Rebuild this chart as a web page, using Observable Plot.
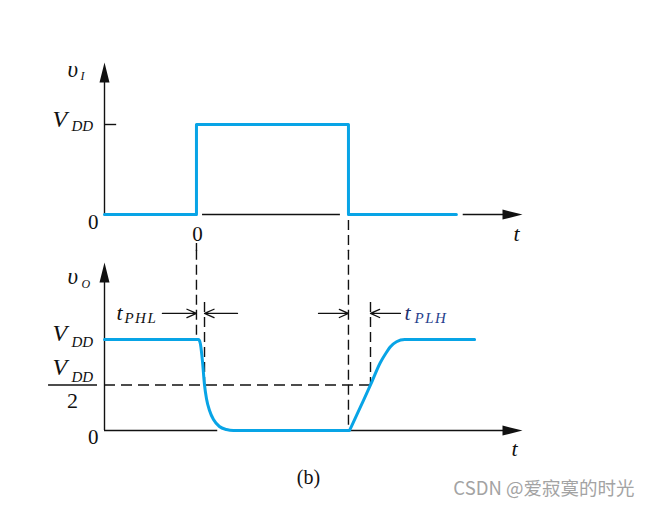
<!DOCTYPE html>
<html><head><meta charset="utf-8">
<script src="https://cdn.jsdelivr.net/npm/d3@7"></script>
<script src="https://cdn.jsdelivr.net/npm/@observablehq/plot@0.6"></script>
<style>
body{margin:0;background:#fff;}
#chart{width:660px;height:508px;overflow:hidden;}
#chart svg{display:block;overflow:visible;}
</style>
</head><body><div id="chart"></div>
<script>
// ---- data (time in arbitrary units, voltage normalised to VDD = 1) ----
const VDD = 1;
const tRise = 0, tFall = 10;          // input edges
const tPHL = 0.53, tPLH = 1.45;       // propagation delays
const xAxisStart = -6.05, xAxisEnd = 21.45;
const inputT = [-6.05, 0, 0, 10, 10, 17.1];
const inputV = [0, 0, 1, 1, 0, 0];
const outputT = [-6.05, 0.13, 0.17, 0.26, 0.39, 0.53, 0.66, 0.86, 1.12, 1.51, 1.97, 2.43, 10.07, 10.11, 10.79, 11.45, 12.1, 12.43, 12.76, 13.16, 13.7, 18.3];
const outputV = [1, 1, 0.995, 0.95, 0.77, 0.5, 0.35, 0.22, 0.12, 0.044, 0.011, 0, 0, 0.014, 0.26, 0.5, 0.747, 0.84, 0.92, 0.975, 1, 1];

const inputData = inputT.map((t, i) => ({t, v: inputV[i]}));
const outputData = outputT.map((t, i) => ({t, v: outputV[i]}));

const serif = "'Liberation Serif', 'Times New Roman', serif";
const blue = "#08a4e6";
const ink = "#111";
const solidHead = {draw(ctx, l, r) { ctx.moveTo(0, -l); ctx.lineTo(r, 0); ctx.lineTo(-r, 0); ctx.closePath(); }};

function txt(str, x, y, o = {}) {
  return Plot.text([str], {x, y, text: d => d, fontFamily: serif, fill: ink, lineAnchor: "bottom", textAnchor: "start", ...o});
}
function axisHeads(yTop) {
  return Plot.vector([{x: xAxisStart, y: yTop, r: 0}, {x: xAxisEnd, y: 0, r: 90}],
    {x: "x", y: "y", rotate: "r", length: 20, r: 5, anchor: "end", shape: solidHead, fill: ink, stroke: "none"});
}

// ---- top panel: input ----
const yTopMax = 1.6889;
const topPlot = Plot.plot({
  width: 660, height: 250,
  marginLeft: 104, marginRight: 138, marginTop: 62, marginBottom: 36,
  x: {domain: [xAxisStart, xAxisEnd], axis: null},
  y: {domain: [0, yTopMax], axis: null},
  style: {background: "white", overflow: "visible"},
  marks: [
    Plot.ruleX([xAxisStart], {y1: 0, y2: 1.467, stroke: ink, strokeWidth: 1.4}),
    Plot.ruleY([{a: -6.05, b: 0}, {a: 0.4, b: 9.47}, {a: 17.55, b: 20.2}], {y: 0, x1: "a", x2: "b", stroke: ink, strokeWidth: 1.4}),
    Plot.ruleY([VDD], {x1: xAxisStart, x2: xAxisStart + 0.8, stroke: ink, strokeWidth: 1.4}),
    Plot.ruleX([{x: tRise, a: -0.322, b: -0.41}, {x: tFall, a: -0.067, b: -0.41}], {x: "x", y1: "a", y2: "b", stroke: ink, strokeWidth: 1.4, strokeDasharray: "10,5"}),
    axisHeads(yTopMax),
    Plot.line(inputData, {x: "t", y: "v", stroke: blue, strokeWidth: 3}),
    txt("υ", xAxisStart, yTopMax, {dx: -37, dy: 14, fontSize: 23, fontStyle: "italic"}),
    txt("I", xAxisStart, yTopMax, {dx: -24, dy: 17, fontSize: 12, fontStyle: "italic"}),
    txt("V", xAxisStart, VDD, {dx: -52, dy: 2, fontSize: 24, fontStyle: "italic"}),
    txt("DD", xAxisStart, VDD, {dx: -33, dy: 6, fontSize: 15, fontStyle: "italic"}),
    txt("0", xAxisStart, 0, {dx: -6, dy: 14, fontSize: 21, textAnchor: "end"}),
    txt("0", tRise, 0, {dx: 1, dy: 26, fontSize: 21, textAnchor: "middle"}),
    txt("t", xAxisEnd, 0, {dx: -9, dy: 26, fontSize: 22, fontStyle: "italic"})
  ]
});

// ---- bottom panel: output ----
const yBotMax = 1.846;
const arrowY = 1.286;
const bottomPlot = Plot.plot({
  width: 660, height: 258,
  marginLeft: 104, marginRight: 138, marginTop: 12, marginBottom: 78,
  x: {domain: [xAxisStart, xAxisEnd], axis: null},
  y: {domain: [0, yBotMax], axis: null},
  style: {background: "white", overflow: "visible"},
  marks: [
    Plot.ruleX([xAxisStart], {y1: 0, y2: 1.626, stroke: ink, strokeWidth: 1.4}),
    Plot.ruleY([{a: -6.05, b: 1.4}, {a: 10.1, b: 20.2}], {y: 0, x1: "a", x2: "b", stroke: ink, strokeWidth: 1.4}),
    Plot.ruleX([
      {x: tRise, a: 1.98, b: 1.02},
      {x: tRise + tPHL, a: 1.407, b: VDD / 2},
      {x: tFall, a: 1.98, b: 0},
      {x: tFall + tPLH, a: 1.407, b: VDD / 2}
    ], {x: "x", y1: "a", y2: "b", stroke: ink, strokeWidth: 1.4, strokeDasharray: "10,5"}),
    Plot.ruleY([VDD / 2], {x1: xAxisStart, x2: tFall + tPLH, stroke: ink, strokeWidth: 1.4, strokeDasharray: "11,6"}),
    Plot.ruleY([VDD / 2], {x1: xAxisStart - 3.68, x2: xAxisStart - 0.46, stroke: ink, strokeWidth: 1.4}),
    Plot.arrow([
      {a: tRise - 2.24, b: tRise},
      {a: tRise + tPHL + 2.17, b: tRise + tPHL},
      {a: tFall - 1.97, b: tFall},
      {a: tFall + tPLH + 1.97, b: tFall + tPLH}
    ], {x1: "a", x2: "b", y1: arrowY, y2: arrowY, stroke: ink, strokeWidth: 1.3, headLength: 12, headAngle: 48}),
    axisHeads(yBotMax),
    Plot.line(outputData, {x: "t", y: "v", stroke: blue, strokeWidth: 3, curve: "monotone-x"}),
    txt("υ", xAxisStart, yBotMax, {dx: -37, dy: 21, fontSize: 23, fontStyle: "italic"}),
    txt("O", xAxisStart, yBotMax, {dx: -23, dy: 25, fontSize: 12, fontStyle: "italic"}),
    txt("V", xAxisStart, VDD, {dx: -52, dy: 2, fontSize: 24, fontStyle: "italic"}),
    txt("DD", xAxisStart, VDD, {dx: -33, dy: 8, fontSize: 15, fontStyle: "italic"}),
    txt("V", xAxisStart, VDD / 2, {dx: -52, dy: -10, fontSize: 24, fontStyle: "italic"}),
    txt("DD", xAxisStart, VDD / 2, {dx: -33, dy: -3, fontSize: 15, fontStyle: "italic"}),
    txt("2", xAxisStart, VDD / 2, {dx: -32, dy: 23.5, fontSize: 22, textAnchor: "middle"}),
    txt("0", xAxisStart, 0, {dx: -6, dy: 13, fontSize: 21, textAnchor: "end"}),
    txt("t", xAxisEnd, 0, {dx: -11, dy: 25, fontSize: 22, fontStyle: "italic"}),
    txt("t", tRise, arrowY, {dx: -80, dy: 7, fontSize: 22, fontStyle: "italic"}),
    txt("PHL", tRise, arrowY, {dx: -72, dy: 10, fontSize: 15, fontStyle: "italic"}),
    txt("t", tFall + tPLH, arrowY, {dx: 34, dy: 7, fontSize: 22, fontStyle: "italic", fill: "#1e2f6e"}),
    txt("PLH", tFall + tPLH, arrowY, {dx: 44, dy: 10, fontSize: 15, fontStyle: "italic", fill: "#26408c"}),
    txt("(b)", 7.37, -0.593, {fontSize: 20, textAnchor: "middle"}),
    txt("CSDN @爱寂寞的时光", 16.9, -0.714, {fontSize: 18.5, fontFamily: "'Noto Sans CJK SC', 'Noto Sans', sans-serif", fill: "#a3a3a3"})
  ]
});

// widen the delay subscripts as in the original typesetting
d3.select(bottomPlot).selectAll("text")
  .filter(function() { return /^(PHL|PLH)$/.test(this.textContent); })
  .style("letter-spacing", "1.5px");

const chart = document.getElementById("chart");
chart.appendChild(topPlot);
chart.appendChild(bottomPlot);
</script>
</body></html>
